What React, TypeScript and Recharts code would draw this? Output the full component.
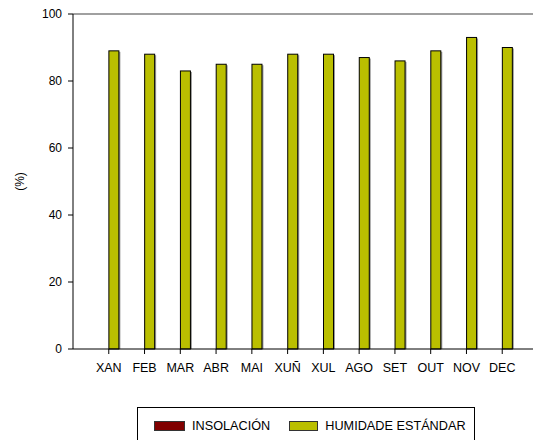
import React from 'react';
import {
  BarChart,
  Bar,
  XAxis,
  YAxis,
  ReferenceLine
} from 'recharts';

const months = ['XAN', 'FEB', 'MAR', 'ABR', 'MAI', 'XUÑ', 'XUL', 'AGO', 'SET', 'OUT', 'NOV', 'DEC'];
const insolacion: (number | null)[] = [null, null, null, null, null, null, null, null, null, null, null, null];
const humidade = [89, 88, 83, 85, 85, 88, 88, 87, 86, 89, 93, 90];
const yTicks = [0, 20, 40, 60, 80, 100];

const series = [
  { key: 'insolacion', name: 'INSOLACIÓN', color: '#800000' },
  { key: 'humidade', name: 'HUMIDADE ESTÁNDAR', color: '#BABF00' }
];

const data = months.map((m, i) => ({
  pos: i + 1,
  month: m,
  insolacion: insolacion[i],
  humidade: humidade[i]
}));

const font = '"Liberation Sans", Arial, sans-serif';

// bar with the little grey drop shadow on its right side
const ShadowBar = (props: any) => {
  const { x, y, width, height, fill } = props;
  if (!height || height <= 0) return null;
  return (
    <g>
      <rect x={x + 1.5} y={y + 1} width={width} height={height - 1} fill="#9a9a9a" />
      <rect x={x} y={y} width={width} height={height} fill={fill} stroke="#000" strokeWidth={1} />
    </g>
  );
};

const App: React.FC = () => {
  return (
    <div
      style={{
        position: 'fixed',
        left: 0,
        top: 0,
        width: 533,
        height: 440,
        overflow: 'hidden',
        background: '#fff',
        fontFamily: font
      }}
    >
      <BarChart
        width={545}
        height={440}
        data={data}
        margin={{ top: 14, right: 7, left: 0, bottom: 61 }}
        barGap={0}
        barSize={10}
      >
        <XAxis
          dataKey="pos"
          type="number"
          domain={[0, 13]}
          ticks={months.map((_m, i) => i + 1)}
          tickFormatter={(v: number) => months[v - 1] ?? ''}
          height={30}
          axisLine={{ stroke: '#000', strokeWidth: 1 }}
          tickLine={{ stroke: '#000' }}
          tickSize={5}
          tickMargin={9}
          tick={{ fill: '#000', fontSize: 12.5, fontFamily: font }}
          interval={0}
        />
        <YAxis
          type="number"
          domain={[0, 100]}
          ticks={yTicks}
          width={73}
          axisLine={{ stroke: '#000', strokeWidth: 1 }}
          tickLine={{ stroke: '#000' }}
          tickSize={5}
          tickMargin={6}
          tick={{ fill: '#000', fontSize: 12, fontFamily: font }}
          label={{
            content: ({ viewBox }: any) => (
              <text
                x={20}
                y={viewBox.y + viewBox.height / 2}
                transform={`rotate(-90, 20, ${viewBox.y + viewBox.height / 2})`}
                textAnchor="middle"
                dominantBaseline="central"
                fontSize={12}
                fontFamily={font}
                fill="#000"
              >
                (%)
              </text>
            )
          }}
        />
        <ReferenceLine y={100} stroke="#808080" strokeWidth={1.5} />
        {series.map((s) => (
          <Bar
            key={s.key}
            dataKey={s.key}
            name={s.name}
            fill={s.color}
            shape={<ShadowBar />}
            isAnimationActive={false}
          />
        ))}
      </BarChart>
      <div
        style={{
          position: 'absolute',
          left: 137,
          top: 407,
          width: 338,
          height: 80,
          borderLeft: '1px solid #000',
          borderRight: '1px solid #000',
          borderTop: '1px solid #000',
          boxSizing: 'border-box',
          display: 'flex',
          alignItems: 'flex-start',
          paddingTop: 12,
          paddingLeft: 16,
          fontSize: 12.7,
          color: '#000'
        }}
      >
        {series.map((s, i) => (
          <div key={s.key} style={{ display: 'flex', alignItems: 'center', marginRight: i === 0 ? 19 : 0 }}>
            <div
              style={{
                width: i === 0 ? 29 : 27,
                height: 8,
                background: s.color,
                border: '1px solid #333',
                marginRight: 7
              }}
            />
            <span style={{ lineHeight: '12px' }}>{s.name}</span>
          </div>
        ))}
      </div>
    </div>
  );
};

export default App;
